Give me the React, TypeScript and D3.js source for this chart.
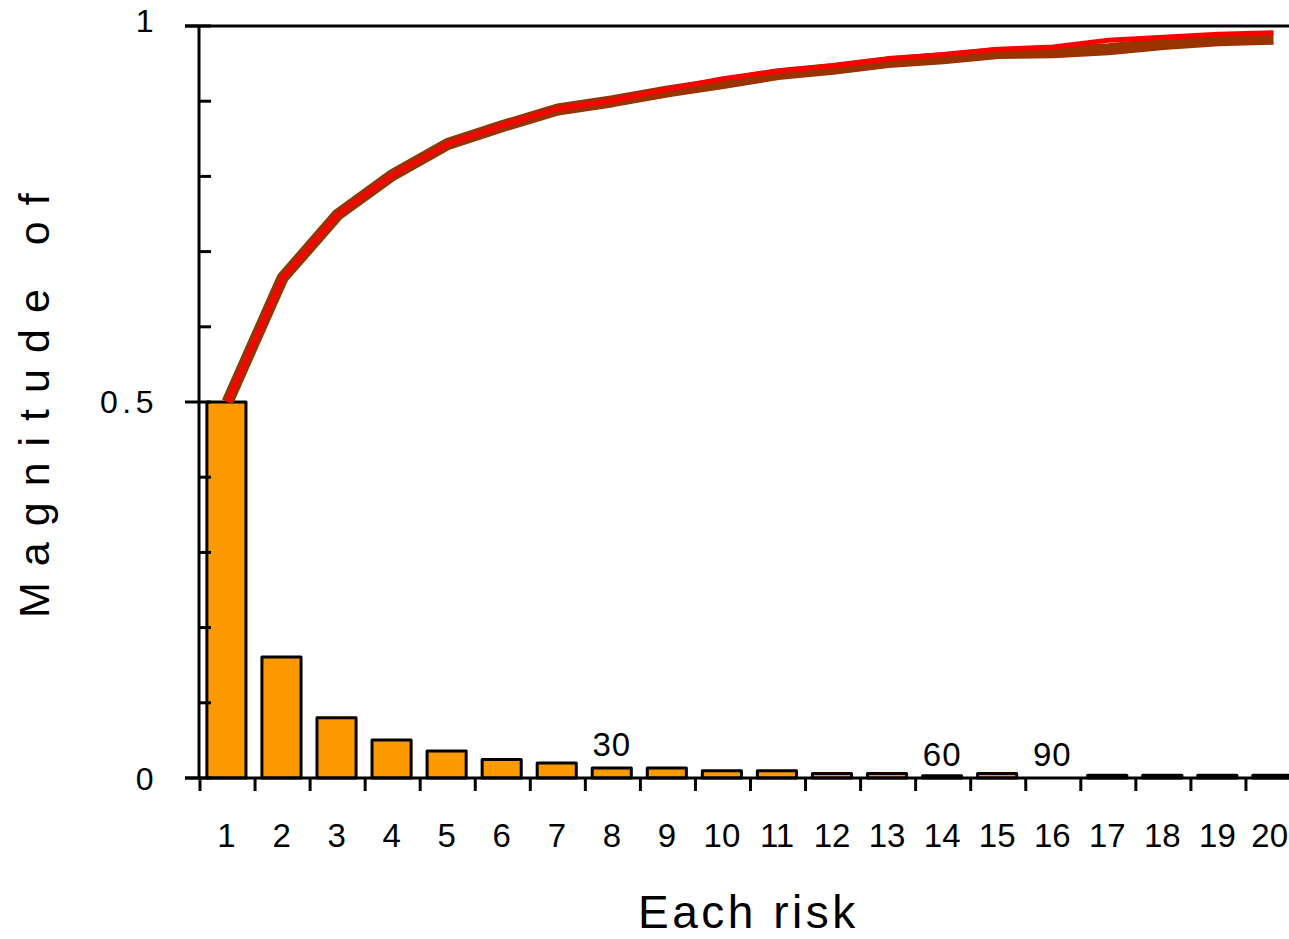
import React from "react";
import * as d3 from "d3";

const categories = ["1","2","3","4","5","6","7","8","9","10","11","12","13","14","15","16","17","18","19","20"];
const barValues = [0.5, 0.161, 0.08, 0.0505, 0.036, 0.0246, 0.02, 0.0133, 0.0133, 0.0096, 0.0096, 0.006, 0.006, 0.003, 0.006, 0, 0.0035, 0.0035, 0.0035, 0.0035];
const redCumulative = [0.5, 0.665, 0.749, 0.802, 0.843, 0.868, 0.89, 0.901, 0.916, 0.93, 0.94, 0.947, 0.956, 0.962, 0.969, 0.972, 0.981, 0.985, 0.989, 0.991];
const brownCumulative = [0.5, 0.665, 0.749, 0.802, 0.843, 0.867, 0.889, 0.9, 0.913, 0.924, 0.936, 0.943, 0.952, 0.957, 0.964, 0.965, 0.969, 0.976, 0.981, 0.983];
const yMajorTicks = [0, 0.5, 1];
const yMinorTicks = [0.1, 0.2, 0.3, 0.4, 0.6, 0.7, 0.8, 0.9];
const yTickLabels = ["0", "0.5", "1"];
const annotations = [
  { cat: "8", text: "30", value: 0.0133 },
  { cat: "14", text: "60", value: 0.003 },
  { cat: "16", text: "90", value: 0 },
];

const W = 1289;
const H = 939;
const FONT = "'Liberation Sans', Arial, sans-serif";

export default function App() {
  const x = d3.scaleBand<string>().domain(categories).range([200, 1301]).padding(0);
  const y = d3.scaleLinear().domain([0, 1]).range([778, 26]);
  const bw = x.bandwidth();
  const cx = (c: string) => (x(c) as number) + bw / 2;

  const line = d3
    .line<number>()
    .x((_, i) => cx(categories[i]))
    .y((d) => y(d));

  const yLabelY: Record<string, number> = { "0": 790, "0.5": 413, "1": 32 };
  const lastCat = categories[categories.length - 1];

  return (
    <svg width={W} height={H} style={{ position: "absolute", left: 0, top: 0, background: "#fff" }}>
      {/* top border */}
      <line x1={185} x2={W} y1={y(1)} y2={y(1)} stroke="#000" strokeWidth={3} />
      {/* bars */}
      {barValues.map((v, i) => {
        const c = categories[i];
        if (v <= 0) return null;
        const x0 = (x(c) as number) + bw * 0.125;
        return (
          <rect
            key={c}
            x={x0}
            y={y(v)}
            width={bw * 0.71}
            height={y(0) - y(v)}
            fill="#FF9900"
            stroke="#000"
            strokeWidth={3}
            strokeLinejoin="round"
          />
        );
      })}
      {/* y axis */}
      <line x1={199} x2={199} y1={y(1)} y2={y(0)} stroke="#000" strokeWidth={3} />
      {yMajorTicks.map((t) => (
        <line key={"M" + t} x1={185} x2={211} y1={y(t)} y2={y(t)} stroke="#000" strokeWidth={3} />
      ))}
      {yMinorTicks.map((t) => (
        <line key={"m" + t} x1={199} x2={211} y1={y(t)} y2={y(t)} stroke="#000" strokeWidth={3} />
      ))}
      {yMajorTicks.map((t, i) => (
        <text
          key={"l" + t}
          x={158}
          y={yLabelY[yTickLabels[i]]}
          textAnchor="end"
          fontFamily={FONT}
          fontSize={32}
          letterSpacing={4.5}
          fill="#000"
        >
          {yTickLabels[i]}
        </text>
      ))}
      {/* x axis */}
      <line x1={185} x2={W} y1={y(0)} y2={y(0)} stroke="#000" strokeWidth={3} />
      {categories.map((c) => (
        <line key={"t" + c} x1={x(c) as number} x2={x(c) as number} y1={y(0)} y2={791} stroke="#000" strokeWidth={3} />
      ))}
      {categories.map((c) => (
        <text
          key={"xl" + c}
          x={c === lastCat ? W - 1 : cx(c) - 1}
          y={847}
          textAnchor={c === lastCat ? "end" : "middle"}
          fontFamily={FONT}
          fontSize={33}
          fill="#000"
        >
          {c}
        </text>
      ))}
      {/* annotations */}
      {annotations.map((a) => (
        <text
          key={"a" + a.text}
          x={cx(a.cat) - 1}
          y={a.value > 0.01 ? 756 : 766}
          textAnchor="middle"
          fontFamily={FONT}
          fontSize={33}
          letterSpacing={1}
          fill="#000"
        >
          {a.text}
        </text>
      ))}
      {/* cumulative lines */}
      <path d={line(brownCumulative) || ""} fill="none" stroke="#993300" strokeWidth={12} strokeLinejoin="round" />
      <path d={line(redCumulative) || ""} fill="none" stroke="#FF0000" strokeWidth={5} strokeLinejoin="round" />
      {/* axis titles */}
      <text x={638} y={928} fontFamily={FONT} fontSize={46} letterSpacing={3.5} fill="#000">
        Each risk
      </text>
      <text
        transform="translate(49,618) rotate(-90)"
        fontFamily={FONT}
        fontSize={43}
        letterSpacing={16}
        fill="#000"
      >
        Magnitude of
      </text>
    </svg>
  );
}
